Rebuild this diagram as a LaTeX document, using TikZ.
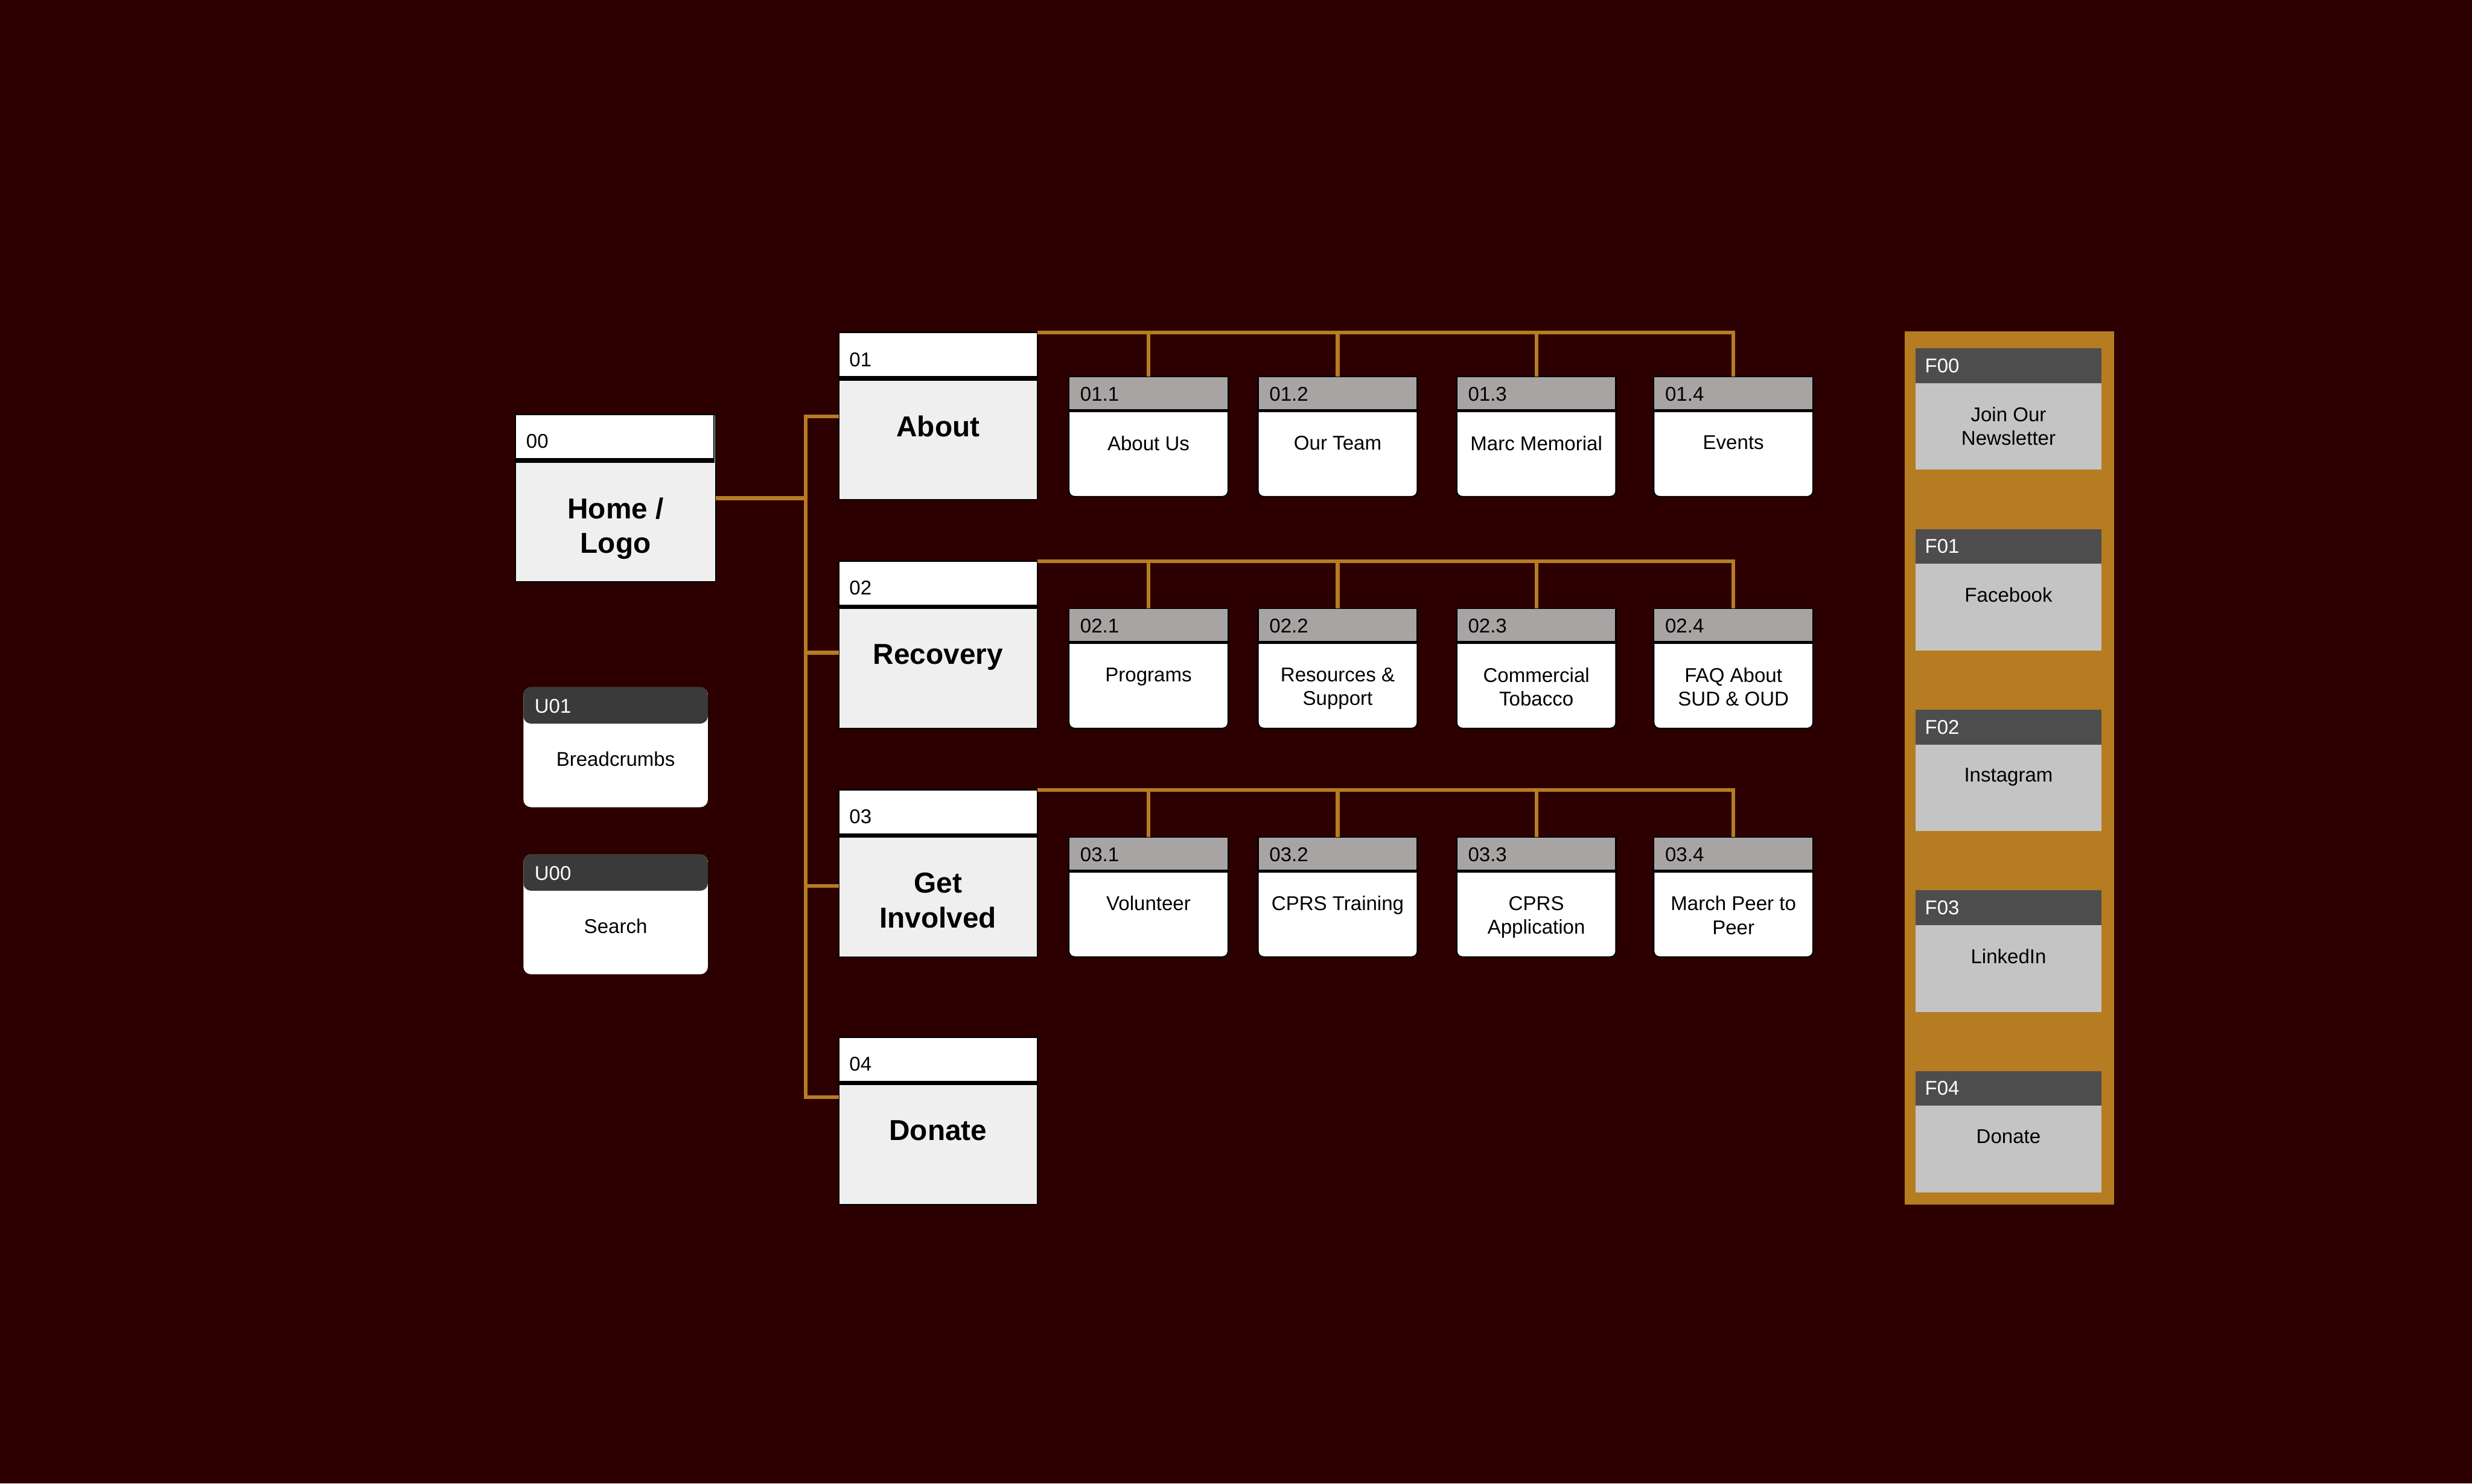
\documentclass[tikz,border=0pt]{standalone}
\usepackage{fontspec}
\setmainfont{Liberation Sans}
\usetikzlibrary{positioning}

\definecolor{bgred}{HTML}{2C0000}
\definecolor{gold}{HTML}{B57C22}
\definecolor{pbody}{HTML}{EFEFEF}
\definecolor{chd}{HTML}{A9A4A4}
\definecolor{uhd}{HTML}{3A3A3A}
\definecolor{fhd}{HTML}{4D4D4D}
\definecolor{fbd}{HTML}{C4C4C4}

\begin{document}
\begin{tikzpicture}[x=0.25mm, y=-0.25mm,
    link/.style={draw=gold, line width=1.7pt},
    card/.style={rectangle, anchor=north west, outer sep=0pt, inner sep=0pt},
    % main pages
    pcard/.style 2 args={card, fill=pbody, draw=black, line width=0.6pt,
      minimum width=31.5mm, minimum height=26.5mm,
      label={[phead]north west:#1}, label={[ptext]north:#2}},
    phead/.style={anchor=north west, rectangle, sharp corners, fill=white, draw=black,
      line width=0.6pt, outer sep=0pt, minimum width=31.5mm, minimum height=7.5mm,
      inner xsep=1.7mm, text width=28.1mm, text height=3.2mm, text depth=0pt,
      align=left, font=\fontsize{9}{10.5}\selectfont,
      path picture={\draw[line width=3.4pt] (path picture bounding box.south west)
        -- (path picture bounding box.south east);}},
    ptext/.style={anchor=north, yshift=-13.1mm, inner sep=0pt, align=center,
      draw=none, fill=none, font=\fontsize{13}{15.6}\selectfont\bfseries},
    % sub pages
    ccard/.style 2 args={card, fill=white, draw=black, line width=0.6pt,
      rounded corners=0.9mm, minimum width=25.25mm, minimum height=19mm,
      label={[chead]north west:#1}, label={[ctext]north:#2}},
    chead/.style={anchor=north west, rectangle, sharp corners, fill=chd, draw=black,
      line width=0.6pt, outer sep=0pt, minimum width=25.25mm, minimum height=5.5mm,
      inner xsep=1.8mm, text width=21.65mm, align=left,
      font=\fontsize{9}{10.5}\selectfont,
      path picture={\draw[line width=2pt] (path picture bounding box.south west)
        -- (path picture bounding box.south east);}},
    ctext/.style={anchor=north, yshift=-9.3mm, inner sep=0pt, align=center,
      draw=none, fill=none, font=\fontsize{9}{10.7}\selectfont},
    % utility boxes
    ucard/.style 2 args={card, fill=white, rounded corners=1.2mm,
      minimum width=29.25mm, minimum height=19mm,
      path picture={\fill[uhd] (path picture bounding box.north west)
        rectangle ([yshift=-5.75mm]path picture bounding box.north east);},
      label={[uhead]north west:#1}, label={[utext]north:#2}},
    uhead/.style={anchor=west, xshift=1.7mm, yshift=-3mm, inner sep=0pt, text=white,
      font=\fontsize{9}{10.5}\selectfont},
    utext/.style={anchor=north, yshift=-10.1mm, inner sep=0pt, align=center,
      font=\fontsize{9}{10.7}\selectfont},
    % footer boxes
    fpanel/.style={card, fill=gold, minimum width=33.25mm, minimum height=138.5mm},
    fcard/.style 2 args={card, fill=fbd, minimum width=29.5mm, minimum height=19.25mm,
      label={[fhead]north west:#1}, label={[ftext]north:#2}},
    fhead/.style={anchor=north west, rectangle, fill=fhd, outer sep=0pt,
      minimum width=29.5mm, minimum height=5.5mm, inner xsep=1.5mm, text width=26.5mm,
      align=left, text=white, font=\fontsize{9}{10.5}\selectfont},
    ftext/.style={anchor=north, yshift=-9.2mm, inner sep=0pt, align=center,
      draw=none, fill=none, font=\fontsize{9}{10.7}\selectfont}]

  \fill[bgred] (0,0) rectangle (1568,941);

  % home and main pages
  \node[pcard={00}{Home /\\Logo}, minimum width=31.75mm] (home) at (327,263) {};
  \node[pcard={01}{About}] (about) at (532,211) {};
  \node[pcard={02}{Recovery}] (recovery) at (532,356) {};
  \node[pcard={03}{Get\\Involved}] (involved) at (532,501) {};
  \node[pcard={04}{Donate}] (donate) at (532,658) {};

  % sub pages
  \node[ccard={01.1}{About Us}] (a1) at (678,239) {};
  \node[ccard={01.2}{Our Team}] (a2) at (798,239) {};
  \node[ccard={01.3}{Marc Memorial}] (a3) at (924,239) {};
  \node[ccard={01.4}{Events}] (a4) at (1049,239) {};
  \node[ccard={02.1}{Programs}] (r1) at (678,386) {};
  \node[ccard={02.2}{Resources \&\\Support}] (r2) at (798,386) {};
  \node[ccard={02.3}{Commercial\\Tobacco}] (r3) at (924,386) {};
  \node[ccard={02.4}{FAQ About\\SUD \& OUD}] (r4) at (1049,386) {};
  \node[ccard={03.1}{Volunteer}] (g1) at (678,531) {};
  \node[ccard={03.2}{CPRS Training}] (g2) at (798,531) {};
  \node[ccard={03.3}{CPRS\\Application}] (g3) at (924,531) {};
  \node[ccard={03.4}{March Peer to\\Peer}] (g4) at (1049,531) {};

  % utility
  \node[ucard={U01}{Breadcrumbs}] (u01) at (332,436) {};
  \node[ucard={U00}{Search}, below=7.5mm of u01] (u00) {};

  % footer
  \node[fpanel] (footer) at (1208,210) {};
  \node[fcard={F00}{Join Our\\Newsletter}] (f0) at (1215,221) {};
  \node[fcard={F01}{Facebook}, below=9.4mm of f0] (f1) {};
  \node[fcard={F02}{Instagram}, below=9.4mm of f1] (f2) {};
  \node[fcard={F03}{LinkedIn}, below=9.4mm of f2] (f3) {};
  \node[fcard={F04}{Donate}, below=9.4mm of f3] (f4) {};

  % connectors
  \coordinate (bus) at (511,0);
  \draw[link] (home.east) -- (home.east -| bus);
  \draw[link] (about.west) -- (about.west -| bus)
    -- ([yshift=3.75mm]donate.west -| bus) -- ([yshift=3.75mm]donate.west);
  \draw[link] ([yshift=-1.25mm]recovery.west) -- ([yshift=-1.25mm]recovery.west -| bus);
  \draw[link] ([yshift=-2mm]involved.west) -- ([yshift=-2mm]involved.west -| bus);
  \foreach \p/\c in {about/a, recovery/r, involved/g} {
    \draw[link] (\p.north east) -| (\c4.north);
    \foreach \i in {1,2,3}
      \draw[link] (\c\i.north) -- (\c\i.north |- \p.north east);
  }
\end{tikzpicture}
\end{document}
